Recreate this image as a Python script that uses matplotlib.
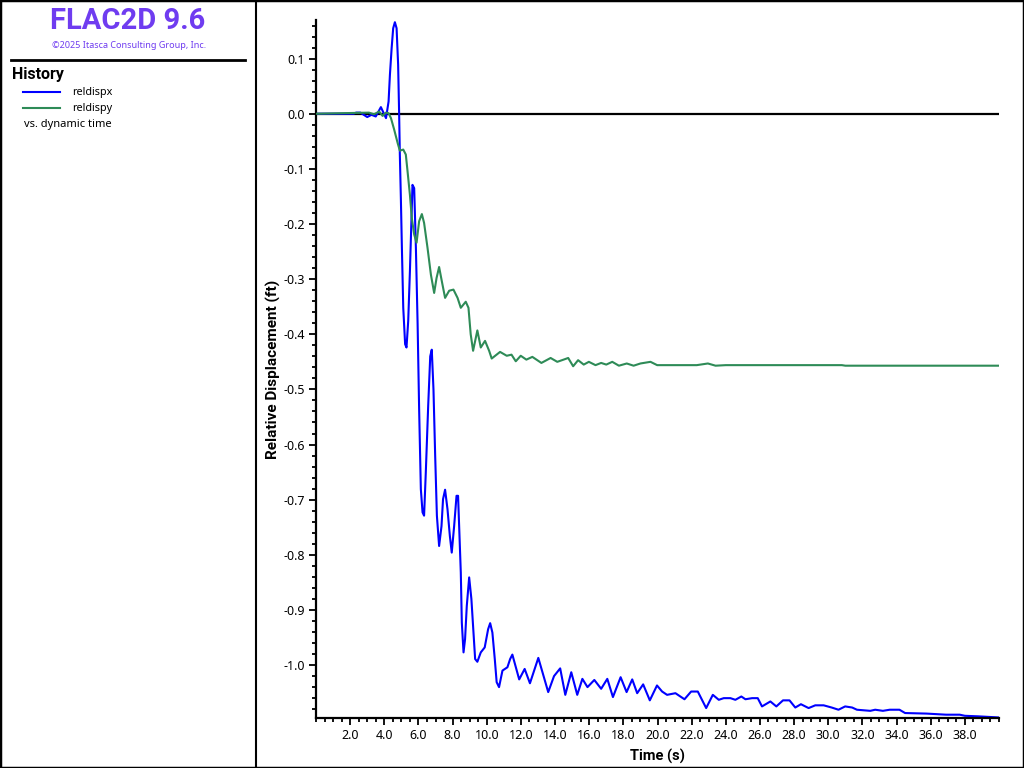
import numpy as np
import matplotlib
matplotlib.use("Agg")
import matplotlib.pyplot as plt
from matplotlib.lines import Line2D
from matplotlib.patches import Rectangle
from matplotlib.ticker import MultipleLocator, FuncFormatter

plt.rcParams['font.family'] = ['Noto Sans', 'DejaVu Sans']
plt.rcParams['axes.unicode_minus'] = False
BOLD_FONT = ['Roboto', 'DejaVu Sans']

# history: relative x displacement (ft) vs dynamic time (s)
time_x = [0.0, 2.2, 2.35, 2.6, 2.75, 3.0, 3.25, 3.5, 3.8, 4.1, 4.25, 4.33, 4.43, 4.52,
          4.62, 4.72, 4.81, 4.87, 4.91, 4.97, 5.03, 5.11, 5.22, 5.3, 5.4, 5.5, 5.6,
          5.65, 5.75, 5.85, 5.95, 6.04, 6.14, 6.24, 6.33, 6.43, 6.57, 6.69, 6.78,
          6.88, 6.98, 7.08, 7.21, 7.35, 7.44, 7.56, 7.7, 7.84, 7.95, 8.09, 8.23,
          8.32, 8.4, 8.48, 8.54, 8.64, 8.73, 8.83, 8.97, 9.1, 9.2, 9.32, 9.45, 9.65,
          9.88, 10.08, 10.2, 10.33, 10.47, 10.58, 10.72, 10.92, 11.21, 11.37, 11.5,
          11.9, 12.22, 12.53, 13.02, 13.6, 13.94, 14.3, 14.6, 14.95, 15.3, 15.6,
          15.9, 16.3, 16.7, 17.06, 17.39, 17.84, 18.19, 18.52, 18.81, 19.16, 19.55,
          19.97, 20.27, 20.56, 21.05, 21.58, 21.97, 22.36, 22.85, 23.24, 23.59,
          23.88, 24.27, 24.56, 24.91, 25.15, 25.54, 25.87, 26.12, 26.61, 26.96,
          27.35, 27.73, 28.07, 28.4, 28.85, 29.24, 29.73, 30.2, 30.6, 30.99, 31.4,
          31.68, 32.46, 32.75, 33.2, 33.6, 34.17, 34.5, 35.76, 36.9, 37.7, 38.0,
          38.8, 39.97]
reldispx = [0.0, 0.0, 0.002, 0.002, -0.001, -0.006, -0.002, -0.005, 0.012, -0.008,
            0.022, 0.071, 0.119, 0.155, 0.166, 0.155, 0.089, -0.002, -0.074, -0.153,
            -0.243, -0.352, -0.418, -0.424, -0.376, -0.286, -0.183, -0.129, -0.135,
            -0.243, -0.380, -0.536, -0.681, -0.723, -0.729, -0.651, -0.530, -0.440,
            -0.428, -0.500, -0.621, -0.729, -0.784, -0.748, -0.699, -0.682, -0.717,
            -0.766, -0.796, -0.748, -0.693, -0.693, -0.760, -0.832, -0.923, -0.977,
            -0.953, -0.893, -0.841, -0.880, -0.929, -0.989, -0.994, -0.977, -0.968,
            -0.935, -0.924, -0.941, -0.989, -1.031, -1.040, -1.010, -1.004, -0.989,
            -0.981, -1.026, -1.007, -1.033, -0.987, -1.049, -1.020, -1.006, -1.054,
            -1.013, -1.054, -1.025, -1.040, -1.027, -1.043, -1.025, -1.058, -1.022,
            -1.049, -1.026, -1.051, -1.035, -1.064, -1.037, -1.048, -1.054, -1.051,
            -1.062, -1.048, -1.048, -1.078, -1.054, -1.063, -1.060, -1.060, -1.063,
            -1.057, -1.062, -1.060, -1.060, -1.075, -1.066, -1.075, -1.064, -1.064,
            -1.077, -1.071, -1.078, -1.073, -1.073, -1.077, -1.081, -1.075, -1.077,
            -1.081, -1.083, -1.081, -1.083, -1.081, -1.081, -1.087, -1.088, -1.090,
            -1.090, -1.092, -1.093, -1.095]

# history: relative y displacement (ft)
time_y = [0.0, 3.1, 3.4, 3.7, 3.9, 4.1, 4.25, 4.39, 4.58, 4.78, 4.91, 5.11, 5.26,
          5.36, 5.5, 5.61, 5.75, 5.89, 6.04, 6.2, 6.33, 6.53, 6.73, 6.92, 7.06, 7.21,
          7.37, 7.56, 7.8, 8.05, 8.29, 8.48, 8.77, 8.93, 9.06, 9.2, 9.45, 9.65, 9.9,
          10.14, 10.29, 10.78, 11.17, 11.45, 11.7, 11.99, 12.32, 12.67, 13.2, 13.74,
          14.13, 14.5, 14.77, 15.06, 15.35, 15.68, 15.98, 16.37, 16.7, 17.0, 17.35,
          17.74, 18.2, 18.6, 19.0, 19.59, 19.98, 20.5, 21.7, 22.3, 22.95, 23.4, 24.0,
          26.0, 28.17, 30.8, 31.0, 39.97]
reldispy = [0.0, 0.002, -0.001, 0.004, -0.004, 0.002, 0.001, -0.008, -0.029, -0.053,
            -0.067, -0.065, -0.074, -0.104, -0.147, -0.189, -0.219, -0.234, -0.195,
            -0.182, -0.198, -0.243, -0.292, -0.325, -0.298, -0.278, -0.304, -0.334,
            -0.321, -0.319, -0.334, -0.352, -0.341, -0.352, -0.400, -0.430, -0.393,
            -0.424, -0.412, -0.430, -0.444, -0.432, -0.439, -0.437, -0.449, -0.439,
            -0.446, -0.441, -0.452, -0.443, -0.450, -0.446, -0.443, -0.458, -0.447,
            -0.455, -0.450, -0.456, -0.452, -0.455, -0.450, -0.457, -0.453, -0.457,
            -0.453, -0.450, -0.456, -0.456, -0.456, -0.456, -0.453, -0.457, -0.456,
            -0.456, -0.456, -0.456, -0.457, -0.457]

W, H = 1024, 768
fig = plt.figure(figsize=(W / 100, H / 100), dpi=100)

# main plot area
ax = fig.add_axes([316 / W, 1 - 718 / H, (999 - 316) / W, (718 - 20) / H])
ax.axhline(0, color='black', lw=1.6, zorder=1)
ax.plot(time_x, reldispx, color='#0000ff', lw=1.5, zorder=2)
ax.plot(time_y, reldispy, color='#2e8b57', lw=1.5, zorder=3)

ax.set_xlim(0, 40)
ax.set_ylim(-1.096, 0.17)
ax.set_xticks(np.arange(2, 40, 2))
ax.xaxis.set_minor_locator(MultipleLocator(0.5))
ax.set_yticks(np.round(np.arange(-1.0, 0.11, 0.1), 1))
ax.yaxis.set_minor_locator(MultipleLocator(0.02))
fmt = FuncFormatter(lambda v, p: '%.1f' % (round(v, 1) + 0.0))
ax.xaxis.set_major_formatter(fmt)
ax.yaxis.set_major_formatter(fmt)
ax.tick_params(which='major', length=5, width=1.3, labelsize=9, pad=3)
ax.tick_params(which='minor', length=3, width=1.3)

for s in ['top', 'right']:
    ax.spines[s].set_visible(False)
for s in ['left', 'bottom']:
    ax.spines[s].set_linewidth(1.6)

ax.set_xlabel('Time (s)', fontsize=10.5, fontweight='bold', family=BOLD_FONT, labelpad=5)
ax.set_ylabel('Relative Displacement (ft)', fontsize=11, fontweight='bold',
              family=BOLD_FONT, labelpad=2)

# frame and side panel
fig.add_artist(Rectangle((0, 0), 1, 1, transform=fig.transFigure, fill=False,
                         edgecolor='black', lw=2.5))
fig.add_artist(Line2D([256 / W, 256 / W], [0, 1], color='black', lw=1.5))
fig.add_artist(Line2D([11 / W, 245 / W], [1 - 60 / H, 1 - 60 / H], color='black', lw=2))

purple = '#6f3cf0'
fig.text(128 / W, 1 - 21 / H, 'FLAC2D 9.6', ha='center', va='center',
         fontsize=21, fontweight='bold', family=BOLD_FONT, color=purple)
fig.text(129 / W, 1 - 45 / H, '\u00a92025 Itasca Consulting Group, Inc.', ha='center',
         va='center', fontsize=6.5, color=purple)

fig.text(12 / W, 1 - 74 / H, 'History', ha='left', va='center', fontsize=11.5,
         fontweight='bold', family=BOLD_FONT)
fig.add_artist(Line2D([23 / W, 60 / W], [1 - 92 / H, 1 - 92 / H], color='#0000ff', lw=1.5))
fig.text(72 / W, 1 - 92 / H, 'reldispx', ha='left', va='center', fontsize=7.8)
fig.add_artist(Line2D([23 / W, 60 / W], [1 - 108 / H, 1 - 108 / H], color='#2e8b57', lw=1.5))
fig.text(72 / W, 1 - 108 / H, 'reldispy', ha='left', va='center', fontsize=7.8)
fig.text(24 / W, 1 - 125 / H, 'vs. dynamic time', ha='left', va='center', fontsize=8)

fig.savefig('out.png', dpi=100)
